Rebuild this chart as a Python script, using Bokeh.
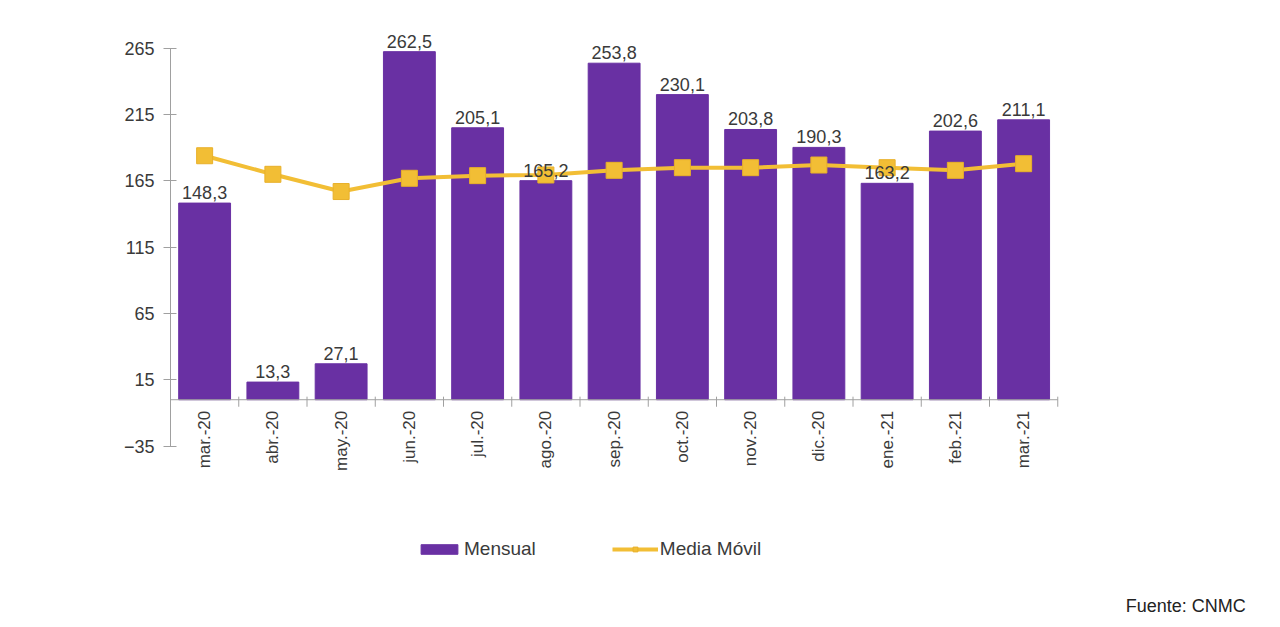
import numpy as np
from bokeh.plotting import figure
from bokeh.models import (Range1d, FixedTicker, ColumnDataSource, LabelSet,
                          Legend, LegendItem, Label)
from bokeh.core.properties import value
from bokeh.embed import file_html
from bokeh.resources import INLINE

months = ["mar.-20", "abr.-20", "may.-20", "jun.-20", "jul.-20", "ago.-20", "sep.-20",
          "oct.-20", "nov.-20", "dic.-20", "ene.-21", "feb.-21", "mar.-21"]
mensual = [148.3, 13.3, 27.1, 262.5, 205.1, 165.2, 253.8, 230.1, 203.8, 190.3, 163.2, 202.6, 211.1]
media_movil = [184, 170, 157, 167, 169, 169.5, 173, 175, 175, 177, 175, 173, 178]
y_ticks = [-35, 15, 65, 115, 165, 215, 265]

FONT = "Liberation Sans"
PURPLE = "#6930A3"
YELLOW = "#F2BE35"
GRAY = "#A0A0A0"
TXT = "#3A3A3A"

n = len(months)
xs = np.arange(n) + 0.5

src = ColumnDataSource(dict(
    x=xs, m=mensual, mm=media_movil, cat=months,
    lab=[f"{v:.1f}".replace(".", ",") for v in mensual],
    zero=[0] * n,
))

# large frame so that annotations (labels, legend, source note) are not clipped;
# the y axis itself is bounded to the tick range
p = figure(width=1270, height=620, output_backend="svg", toolbar_location=None,
           x_range=Range1d(0, 16.0), y_range=Range1d(-165, 286),
           min_border_left=170, min_border_right=8, min_border_top=20,
           min_border_bottom=2)
p.outline_line_color = None
p.xgrid.visible = False
p.ygrid.visible = False
p.xaxis.visible = False

ya = p.yaxis[0]
ya.bounds = (y_ticks[0], y_ticks[-1])
ya.ticker = FixedTicker(ticks=y_ticks)
ya.axis_line_color = GRAY
ya.major_tick_line_color = GRAY
ya.minor_tick_line_color = None
ya.major_tick_in = 6
ya.major_tick_out = 7
ya.major_label_standoff = 9
ya.major_label_text_font = FONT
ya.major_label_text_font_size = "18px"
ya.major_label_text_color = TXT

bars = p.vbar(x="x", top="m", width=0.76, bottom=0, source=src,
              fill_color=PURPLE, line_color=PURPLE)

# category axis at zero
p.segment(x0=[0], y0=[0], x1=[n], y1=[0], line_color=GRAY, line_width=1)
bounds = np.arange(n + 1)
p.segment(x0=bounds, y0=[2.3] * (n + 1), x1=bounds, y1=[-5.3] * (n + 1),
          line_color=GRAY, line_width=1)

line = p.line(x="x", y="mm", source=src, line_color=YELLOW, line_width=4)
marks = p.scatter(x="x", y="mm", source=src, marker="square", size=16,
                  fill_color=YELLOW, line_color="#E8B02A")

p.add_layout(LabelSet(x="x", y="m", text="lab", source=src, text_align="center",
                      text_baseline="bottom", y_offset=4, text_font=value(FONT),
                      text_font_size="18px", text_color=TXT))

p.add_layout(LabelSet(x="x", y="zero", text="cat", source=src, angle=np.pi / 2,
                      text_align="right", text_baseline="middle", y_offset=-11,
                      text_font=value(FONT), text_font_size="17px",
                      text_color=TXT))

legend = Legend(items=[LegendItem(label="Mensual", renderers=[bars]),
                       LegendItem(label="Media Móvil", renderers=[line, marks])],
                orientation="horizontal", location=(246, 58),
                label_text_font=FONT, label_text_font_size="19px",
                label_text_color=TXT, glyph_width=46, glyph_height=12,
                spacing=76, border_line_color=None, background_fill_alpha=0,
                label_standoff=2)
p.add_layout(legend, "center")

p.add_layout(Label(x=n, y=-35, x_offset=188, y_offset=-160, text="Fuente: CNMC",
                   text_align="right", text_baseline="middle", text_font=FONT,
                   text_font_size="18px", text_color="#222222"))

open("out.html", "w").write(file_html(p, INLINE))
